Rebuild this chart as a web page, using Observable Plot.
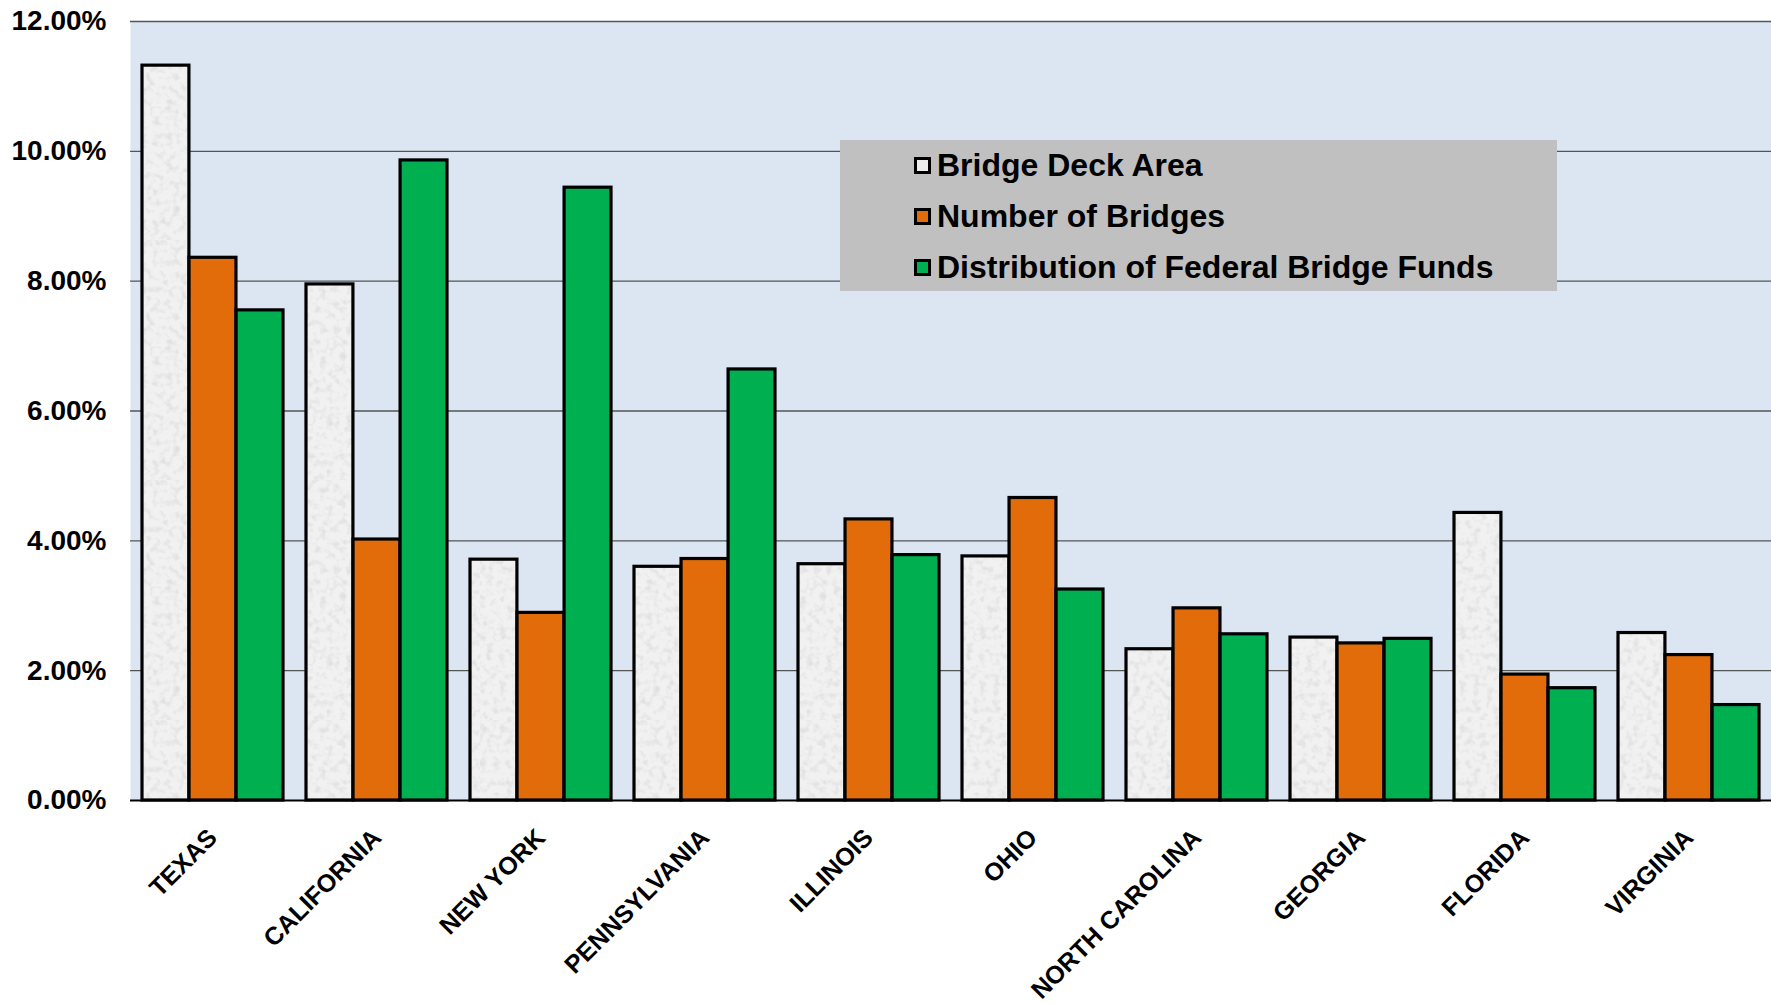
<!DOCTYPE html>
<html>
<head>
<meta charset="utf-8">
<script src="https://cdn.jsdelivr.net/npm/d3@7"></script>
<script src="https://cdn.jsdelivr.net/npm/@observablehq/plot@0.6"></script>
<style>
  body { margin: 0; background: #fff; font-family: "Liberation Sans", Arial, sans-serif; }
  #wrap { position: relative; width: 1771px; height: 1003px; }
  #legend { position: absolute; left: 840px; top: 140px; width: 717px; height: 151px; background: #C0C0C0; }
  .item { position: absolute; left: 74px; height: 38px; display: flex; align-items: center;
          font-weight: bold; font-size: 32px; color: #000; white-space: nowrap; }
  .sw { width: 11px; height: 11px; border: 3px solid #000; margin-right: 6px; flex: none; }
</style>
</head>
<body>
<div id="wrap">
  <div id="chart"></div>
  <div id="legend"></div>
</div>
<script>
const states = ["TEXAS", "CALIFORNIA", "NEW YORK", "PENNSYLVANIA", "ILLINOIS", "OHIO",
                "NORTH CAROLINA", "GEORGIA", "FLORIDA", "VIRGINIA"];
const seriesNames = ["Bridge Deck Area", "Number of Bridges", "Distribution of Federal Bridge Funds"];
const deckArea   = [11.32, 7.95, 3.71, 3.60, 3.64, 3.76, 2.33, 2.51, 4.43, 2.58];
const numBridges = [8.36, 4.02, 2.89, 3.72, 4.33, 4.66, 2.96, 2.42, 1.94, 2.24];
const fedFunds   = [7.55, 9.86, 9.44, 6.64, 3.78, 3.25, 2.56, 2.49, 1.73, 1.47];
const yTicks = [0, 2, 4, 6, 8, 10, 12];
const seriesColors = ["url(#deckTexture)", "#E36C0A", "#00B050"];
const legendSwatch = ["#EDEDED", "#E36C0A", "#00B050"];

const rows = states.map((s, i) => ({state: s, deck: deckArea[i], count: numBridges[i], funds: fedFunds[i]}));
const keys = ["deck", "count", "funds"];

const W = 1771, H = 1003, mL = 130, mR = 0, mT = 21, mB = 203;
const pad = 0.14, padOuter = 0.07;
const step = (W - mL - mR) / (states.length - pad + 2 * padOuter);
const third = step * (1 - pad) / 3;

const bars = keys.map((k, j) => Plot.barY(rows, {
  x: "state", y: k, fill: seriesColors[j], stroke: "#000", strokeWidth: 3.2,
  insetLeft: j * third, insetRight: (2 - j) * third
}));

const chart = Plot.plot({
  width: W, height: H,
  marginLeft: mL, marginRight: mR, marginTop: mT, marginBottom: mB,
  style: {fontFamily: "'Liberation Sans', Arial, sans-serif", background: "transparent", color: "#000"},
  x: {domain: states, paddingInner: pad, paddingOuter: padOuter, label: null},
  y: {domain: [0, 12], label: null},
  marks: [
    Plot.frame({fill: "#DCE6F2", stroke: null}),
    Plot.ruleY(yTicks.filter(d => d > 0), {stroke: "#555", strokeWidth: 1.3}),
    ...bars,
    Plot.ruleY([0], {stroke: "#000", strokeWidth: 2}),
    Plot.axisY({ticks: yTicks, tickSize: 0, tickPadding: 24, tickFormat: d => d.toFixed(2) + "%",
                fontSize: 28, fontWeight: "bold", label: null}),
    Plot.axisX({tickSize: 0, tickPadding: 33, tickRotate: -45, fontSize: 25, fontWeight: "bold", label: null})
  ]
});

// texture for the deck-area bars
const defs = d3.select(chart).insert("defs", ":first-child");
const f = defs.append("filter").attr("id", "speckle").attr("x", 0).attr("y", 0).attr("width", 1).attr("height", 1);
f.append("feTurbulence").attr("type", "fractalNoise").attr("baseFrequency", 0.15).attr("numOctaves", 2).attr("seed", 3).attr("result", "t");
f.append("feColorMatrix").attr("in", "t").attr("type", "matrix")
  .attr("values", "0 0 0 0 0.6  0 0 0 0 0.6  0 0 0 0 0.6  1.2 0 0 0 -0.55");
const p = defs.append("pattern").attr("id", "deckTexture").attr("patternUnits", "userSpaceOnUse")
  .attr("width", 240).attr("height", 240);
p.append("rect").attr("width", 240).attr("height", 240).attr("fill", "#F1F1F1");
p.append("rect").attr("width", 240).attr("height", 240).attr("filter", "url(#speckle)");

document.getElementById("chart").appendChild(chart);

// legend
const legend = document.getElementById("legend");
seriesNames.forEach((name, i) => {
  const it = document.createElement("div");
  it.className = "item";
  it.style.top = (6 + i * 51) + "px";
  const sw = document.createElement("span");
  sw.className = "sw";
  sw.style.background = legendSwatch[i];
  it.appendChild(sw);
  it.appendChild(document.createTextNode(name));
  legend.appendChild(it);
});
</script>
</body>
</html>
